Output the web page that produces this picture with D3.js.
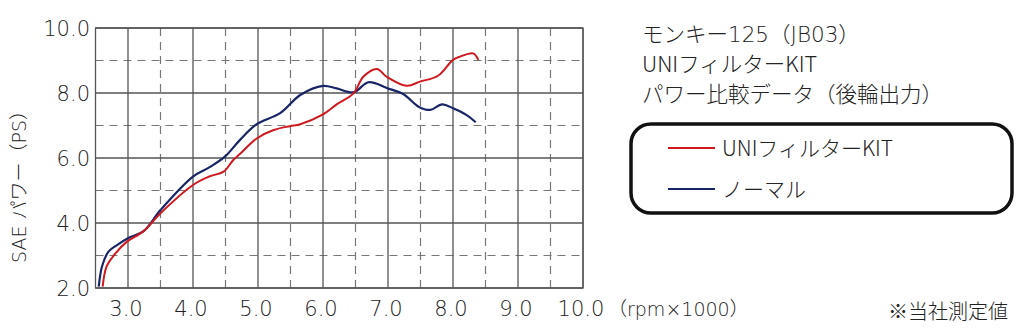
<!DOCTYPE html>
<html>
<head>
<meta charset="utf-8">
<script src="https://cdn.jsdelivr.net/npm/d3@7"></script>
<style>
  body { margin: 0; background: #fff; }
  text { font-family: "Noto Sans CJK JP", "Noto Sans", sans-serif; fill: #222; font-weight: 300; }
  .num { font-family: "DejaVu Sans", "Noto Sans CJK JP", sans-serif; font-weight: 200; }
</style>
</head>
<body>
<div id="chart"></div>
<script>
// rpm x1000 and power (PS)
var uniRpm = [2.61, 2.67, 2.80, 2.98, 3.24, 3.50, 4.00, 4.25, 4.47, 4.62, 4.72, 4.98, 5.24, 5.49, 5.65, 6.00, 6.21, 6.47, 6.62, 6.83, 6.98, 7.29, 7.49, 7.77, 8.00, 8.11, 8.31, 8.39];
var uniPs  = [2.04, 2.66, 3.05, 3.42, 3.75, 4.30, 5.17, 5.43, 5.58, 5.94, 6.12, 6.60, 6.86, 6.98, 7.04, 7.34, 7.65, 7.99, 8.50, 8.74, 8.50, 8.22, 8.35, 8.53, 9.02, 9.12, 9.22, 9.02];

var normRpm = [2.55, 2.60, 2.70, 2.83, 3.00, 3.24, 3.50, 4.00, 4.25, 4.49, 4.72, 4.98, 5.34, 5.65, 6.00, 6.21, 6.47, 6.70, 7.00, 7.24, 7.47, 7.65, 7.83, 8.00, 8.21, 8.35];
var normPs  = [2.04, 2.66, 3.12, 3.32, 3.53, 3.75, 4.40, 5.43, 5.71, 6.04, 6.55, 7.04, 7.38, 7.94, 8.22, 8.14, 8.02, 8.33, 8.14, 7.96, 7.58, 7.48, 7.65, 7.53, 7.32, 7.10];

var xTicks = [3, 4, 5, 6, 7, 8, 9, 10];
var xHalf = [3.5, 4.5, 5.5, 6.5, 7.5, 8.5, 9.5];
var yTicks = [2, 4, 6, 8, 10];
var yHalf = [3, 5, 7, 9];

var titleLines = ["モンキー125（JB03）", "UNIフィルターKIT", "パワー比較データ（後輪出力）"];
var seriesNames = ["UNIフィルターKIT", "ノーマル"];
var seriesColors = ["#d0181f", "#182567"];

var width = 1024, height = 333;
var svg = d3.select("#chart").append("svg")
  .attr("width", width).attr("height", height);

// scales
var x = d3.scaleLinear().domain([2.5, 10]).range([95.5, 583]);
var y = d3.scaleLinear().domain([2, 10]).range([288, 28]);

// dashed grid
svg.append("g").selectAll("line").data(xHalf).enter().append("line")
  .attr("x1", d => x(d)).attr("x2", d => x(d))
  .attr("y1", y(10)).attr("y2", y(2))
  .attr("stroke", "#777").attr("stroke-width", 1.2).attr("stroke-dasharray", "8,6");
svg.append("g").selectAll("line").data(yHalf).enter().append("line")
  .attr("x1", x(2.5)).attr("x2", x(10))
  .attr("y1", d => y(d)).attr("y2", d => y(d))
  .attr("stroke", "#777").attr("stroke-width", 1.2).attr("stroke-dasharray", "8,6");

// solid grid
svg.append("g").selectAll("line").data(xTicks).enter().append("line")
  .attr("x1", d => x(d)).attr("x2", d => x(d))
  .attr("y1", y(10)).attr("y2", y(2))
  .attr("stroke", "#555").attr("stroke-width", 1.3);
svg.append("g").selectAll("line").data(yTicks).enter().append("line")
  .attr("x1", x(2.5)).attr("x2", x(10))
  .attr("y1", d => y(d)).attr("y2", d => y(d))
  .attr("stroke", "#555").attr("stroke-width", 1.3);
svg.append("rect")
  .attr("x", x(2.5)).attr("y", y(10))
  .attr("width", x(10) - x(2.5)).attr("height", y(2) - y(10))
  .attr("fill", "none").attr("stroke", "#555").attr("stroke-width", 1.3);

// tick labels
svg.append("g").selectAll("text").data(yTicks).enter().append("text")
  .attr("class", "num")
  .attr("x", 90).attr("y", d => y(d)).attr("dy", "0.36em")
  .attr("text-anchor", "end").style("font-size", "21px")
  .text(d => d.toFixed(1));
svg.append("g").selectAll("text").data(xTicks).enter().append("text")
  .attr("class", "num")
  .attr("x", d => x(d) - 2).attr("y", 316)
  .attr("text-anchor", "middle").style("font-size", "21px")
  .text(d => d.toFixed(1));
svg.append("text").attr("class", "num").attr("x", 608).attr("y", 316)
  .style("font-size", "19px").text("（rpm×1000）");
svg.append("text").attr("x", 1008).attr("y", 319).attr("text-anchor", "end")
  .style("font-size", "20px").text("※当社測定値");

// y axis title
svg.append("text")
  .attr("class", "num")
  .attr("transform", "translate(26,182) rotate(-90)")
  .attr("text-anchor", "middle").style("font-size", "19px")
  .text("SAE パワー（PS）");

// curves
var line = d3.line().x(d => x(d[0])).y(d => y(d[1])).curve(d3.curveCatmullRom);
var uniData = uniRpm.map((r, i) => [r, uniPs[i]]);
var normData = normRpm.map((r, i) => [r, normPs[i]]);

svg.append("path").datum(normData).attr("d", line)
  .attr("fill", "none").attr("stroke", seriesColors[1]).attr("stroke-width", 2.2);
svg.append("path").datum(uniData).attr("d", line)
  .attr("fill", "none").attr("stroke", seriesColors[0]).attr("stroke-width", 2);

// title
svg.append("g").selectAll("text").data(titleLines).enter().append("text")
  .attr("class", (d, i) => i === 0 ? "num" : null)
  .attr("x", 642).attr("y", (d, i) => 42 + i * 30)
  .style("font-size", "21.5px")
  .text(d => d);

// legend
svg.append("rect")
  .attr("x", 631).attr("y", 124).attr("width", 381).attr("height", 89)
  .attr("rx", 20).attr("ry", 20)
  .attr("fill", "none").attr("stroke", "#111").attr("stroke-width", 3.5);
var leg = svg.append("g").selectAll("g").data(seriesNames).enter().append("g")
  .attr("transform", (d, i) => "translate(0," + (148 + i * 41) + ")");
leg.append("line").attr("x1", 668).attr("x2", 715)
  .attr("stroke", (d, i) => seriesColors[i]).attr("stroke-width", 1.8);
leg.append("text").attr("x", 722).attr("dy", "0.36em")
  .style("font-size", "21px")
  .text(d => d);
</script>
</body>
</html>
